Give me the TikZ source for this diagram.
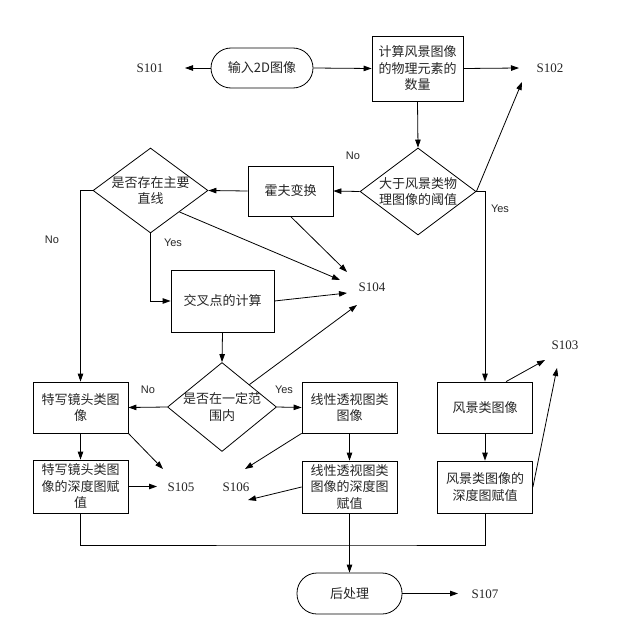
\documentclass[tikz,border=0pt]{standalone}
\usepackage{fontspec}
\setmainfont{Liberation Serif}
\newfontfamily\cjk{Noto Sans CJK SC}
\newfontfamily\latsans{Liberation Sans}
\usetikzlibrary{arrows.meta,shapes.geometric,calc}
\begin{document}
\begin{tikzpicture}[x=1pt,y=-1pt,
  line width=0.8pt,
  every node/.style={inner sep=0pt},
  txt/.style={font=\cjk\fontsize{13}{16.5}\selectfont, align=center, text=black!85},
  stepbox/.style={draw, txt, minimum width=95pt, minimum height=51pt},
  term/.style={draw, txt, rounded corners=20pt, minimum height=40pt},
  slabel/.style={font=\fontsize{13}{15}\selectfont, text=black!85},
  yn/.style={font=\latsans\fontsize{11}{13}\selectfont, text=black!85},
  arr/.style={-{Triangle[length=8pt,width=5.5pt]}}
]
\useasboundingbox (0,0) rectangle (617,626);
\fill[white] (0,0) rectangle (617,626);

% nodes
\node[term, minimum width=102pt] (in) at (262,68) {输入2D图像};
\node[stepbox, minimum width=91pt, minimum height=65pt] (calc) at (417.5,68.5) {计算风景图像\\的物理元素的\\数量};
\node[draw, diamond, minimum width=116pt, minimum height=87pt] (d1) at (418,191.5) {};
\node[txt] at (d1) {大于风景类物\\理图像的阈值};
\node[stepbox, minimum width=85pt, minimum height=50pt] (hough) at (290.5,191) {霍夫变换};
\node[draw, diamond, minimum width=115pt, minimum height=85pt] (d2) at (150.5,190.5) {};
\node[txt] at (d2) {是否存在主要\\直线};
\node[stepbox, minimum width=103pt, minimum height=62pt] (cross) at (222.5,301) {交叉点的计算};
\node[draw, diamond, minimum width=109pt, minimum height=89pt] (d3) at (222,407) {};
\node[txt] at (d3) {是否在一定范\\围内};
\node[stepbox] (close) at (80.5,407.5) {特写镜头类图\\像};
\node[stepbox] (lin) at (349.5,407.5) {线性透视图类\\图像};
\node[stepbox] (land) at (485,407.5) {风景类图像};
\node[stepbox, minimum height=53pt] (closed) at (80.5,486.5) {特写镜头类图\\像的深度图赋\\值};
\node[stepbox, minimum height=52pt] (lind) at (349.5,487) {线性透视图类\\图像的深度图\\赋值};
\node[stepbox, minimum height=52pt] (landd) at (485,487) {风景类图像的\\深度图赋值};
\node[term, minimum width=105pt, minimum height=41pt] (post) at (349.5,593.5) {后处理};

% step labels
\node[slabel] (s101) at (150,68) {S101};
\node[slabel] (s102) at (550,68) {S102};
\node[slabel] (s103) at (565,345) {S103};
\node[slabel] (s104) at (372,287) {S104};
\node[slabel] (s105) at (181,487) {S105};
\node[slabel] (s106) at (236,487) {S106};
\node[slabel] (s107) at (485,594) {S107};

% yes/no labels
\node[yn] at (353,156) {No};
\node[yn] at (500,209) {Yes};
\node[yn] at (52,240) {No};
\node[yn] at (173,243) {Yes};
\node[yn] at (148,390) {No};
\node[yn] at (284,390) {Yes};

% free arrow ends
\coordinate (e101) at (185,68);
\coordinate (e102a) at (519,68);
\coordinate (e102b) at (522,82);
\coordinate (e104a) at (340,280);
\coordinate (e104b) at (347,272);
\coordinate (e104c) at (347,293);
\coordinate (e104d) at (357,305);
\coordinate (e105a) at (163,469);
\coordinate (e105b) at (157,486.5);
\coordinate (e106a) at (245,469);
\coordinate (e106b) at (248,500);
\coordinate (e103a) at (545,360);
\coordinate (e103b) at (557,368);
\coordinate (e107) at (458,593.5);
\coordinate (merge) at (349.5,545);

% connectors
\draw[arr] (in.west) -- (e101);
\draw[arr] (in.east) -- (calc.west);
\draw[arr] (calc.east) -- (e102a);
\draw[arr] (calc.south) -- (d1.north);
\draw[arr] (d1.east) -- (e102b);
\draw[arr] (d1.east) -| (land.north);
\draw[arr] (d1.west) -- (hough.east);
\draw[arr] (hough.west) -- (d2.east);
\draw[arr] (d2.west) -| (close.north);
\draw[arr] (d2.south) |- (cross.west);
\draw[arr] (d2.south east) -- (e104a);
\draw[arr] (hough.south) -- (e104b);
\draw[arr] (cross.east) -- (e104c);
\draw[arr] (d3.north east) -- (e104d);
\draw[arr] (cross.south) -- (d3.north);
\draw[arr] (d3.west) -- (close.east);
\draw[arr] (d3.east) -- (lin.west);
\draw[arr] (close.south) -- (closed.north);
\draw[arr] (close.south east) -- (e105a);
\draw[arr] (closed.east) -- (e105b);
\draw[arr] (lin.south west) -- (e106a);
\draw[arr] (lind.west) -- (e106b);
\draw[arr] (lin.south) -- (lind.north);
\draw[arr] (land.south) -- (landd.north);
\draw[arr] ($(land.north east)!0.28!(land.north west)$) -- (e103a);
\draw[arr] (landd.east) -- (e103b);
\draw (closed.south) |- (merge) -| (landd.south);
\draw[arr] (lind.south) -- (post.north);
\draw[arr] (post.east) -- (e107);
\end{tikzpicture}
\end{document}
